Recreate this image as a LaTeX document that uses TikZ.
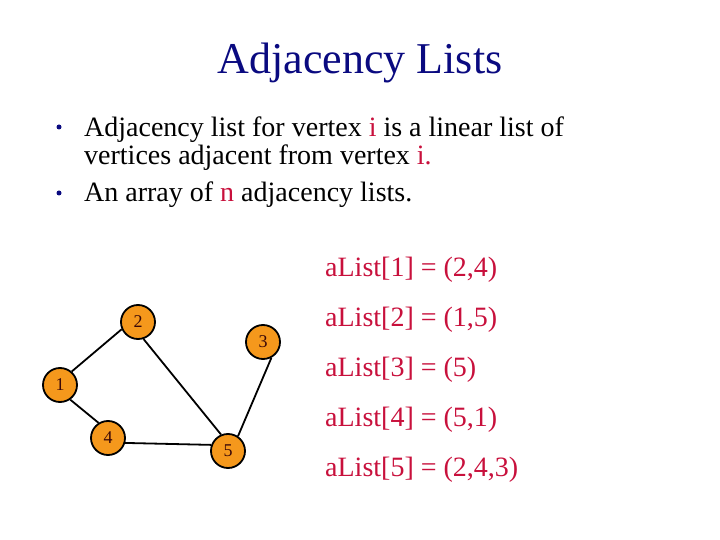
\documentclass[tikz,border=0pt]{standalone}
\usepackage{fontspec}
\setmainfont{Liberation Serif}
\definecolor{titleblue}{HTML}{0A0A80}
\definecolor{crim}{HTML}{C8103C}
\definecolor{nodeorange}{HTML}{F5981C}
\definecolor{numred}{HTML}{3A0808}
\begin{document}
\begin{tikzpicture}[x=1pt,y=-1pt,
  vtx/.style={circle,draw=black,line width=1.8pt,fill=nodeorange,minimum size=34pt,inner sep=0pt,font=\fontsize{18}{18}\selectfont,text=numred},
  edge/.style={line width=1.8pt,black},
  bul/.style={anchor=base west,inner sep=0pt,font=\fontsize{28}{28}\selectfont,text=black},
  lst/.style={anchor=base west,inner sep=0pt,font=\fontsize{28}{28}\selectfont,text=crim}]
\useasboundingbox (0,0) rectangle (720,540);
\node[anchor=base,inner sep=0pt,font=\fontsize{44}{44}\selectfont,text=titleblue] (title) at (360,74) {Adjacency Lists};
\fill[titleblue] (59,127) circle (2.5);
\fill[titleblue] (59,193) circle (2.5);
\node[bul] (b1) at (84,137) {Adjacency list for vertex \textcolor{crim}{i} is a linear list of};
\node[bul] (b2) at (84,165) {vertices adjacent from vertex \textcolor{crim}{i.}};
\node[bul] (b3) at (84,202) {An array of \textcolor{crim}{n} adjacency lists.};
\node[lst] (l1) at (325,276) {aList[1] = (2,4)};
\node[lst] (l2) at (325,326) {aList[2] = (1,5)};
\node[lst] (l3) at (325,376) {aList[3] = (5)};
\node[lst] (l4) at (325,426) {aList[4] = (5,1)};
\node[lst] (l5) at (325,476) {aList[5] = (2,4,3)};
\node[vtx] (v1) at (60,385) {1};
\node[vtx] (v2) at (138,322) {2};
\node[vtx] (v3) at (263,342) {3};
\node[vtx] (v4) at (108,438) {4};
\node[vtx] (v5) at (228,451) {5};
\draw[edge] (v1.49) -- (v2.-156);
\draw[edge] (v1.-55) -- (v4.122);
\draw[edge] (v2.-72) -- (v5.113);
\draw[edge] (v4.-16) -- (v5.160);
\draw[edge] (v3.-62) -- (v5.56);
\end{tikzpicture}
\end{document}
